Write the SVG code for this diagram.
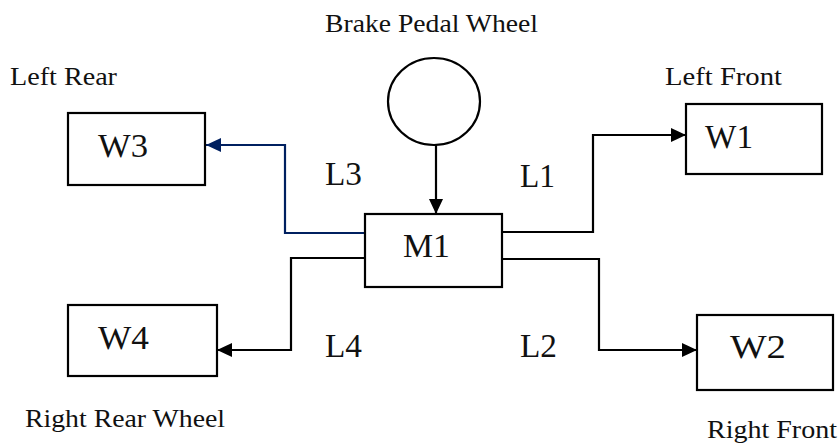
<svg xmlns="http://www.w3.org/2000/svg" width="840" height="444" viewBox="0 0 840 444">
  <style>
    .box { fill: #ffffff; stroke: #000000; stroke-width: 2.2; }
    .big { font-family: "Liberation Serif", "Times New Roman", serif; font-size: 34px; fill: #111111; }
    .small { font-family: "Liberation Serif", "Times New Roman", serif; font-size: 25px; fill: #111111; }
    .conn { fill: none; stroke: #000000; stroke-width: 2.2; }
    .navy { stroke: #002060; }
  </style>
  <defs>
    <marker id="arrowBlack" markerUnits="userSpaceOnUse" markerWidth="16" markerHeight="16" refX="15" refY="7" orient="auto">
      <path d="M0,0 L15,7 L0,14 Z" fill="#000000"/>
    </marker>
    <marker id="arrowNavy" markerUnits="userSpaceOnUse" markerWidth="16" markerHeight="16" refX="15" refY="7" orient="auto">
      <path d="M0,0 L15,7 L0,14 Z" fill="#002060"/>
    </marker>
  </defs>
  <rect width="840" height="444" fill="#ffffff"/>

  <g id="connectors">
    <path class="conn" d="M436 145 V214" marker-end="url(#arrowBlack)"/>
    <path class="conn" d="M502 232 H593 V135 H686" marker-end="url(#arrowBlack)"/>
    <path class="conn" d="M502 259 H599 V350 H697" marker-end="url(#arrowBlack)"/>
    <path class="conn navy" d="M365 233 H285 V145 H206" marker-end="url(#arrowNavy)"/>
    <path class="conn" d="M365 258 H291 V350 H217" marker-end="url(#arrowBlack)"/>
  </g>

  <g id="brake">
    <ellipse cx="434" cy="101.5" rx="46" ry="43.5" class="box"/>
    <text class="small" x="325" y="32" textLength="213" lengthAdjust="spacingAndGlyphs">Brake Pedal Wheel</text>
  </g>
  <g id="M1">
    <rect class="box" x="365" y="214" width="137" height="73"/>
    <text class="big" x="403" y="257" textLength="47" lengthAdjust="spacingAndGlyphs">M1</text>
  </g>
  <g id="W1">
    <rect class="box" x="686" y="104" width="136" height="70"/>
    <text class="big" x="705" y="148" textLength="48" lengthAdjust="spacingAndGlyphs">W1</text>
    <text class="small" x="665" y="85" textLength="117" lengthAdjust="spacingAndGlyphs">Left Front</text>
  </g>
  <g id="W2">
    <rect class="box" x="697" y="315" width="136" height="75"/>
    <text class="big" x="730" y="358" textLength="56" lengthAdjust="spacingAndGlyphs">W2</text>
    <text class="small" x="707" y="438" textLength="130" lengthAdjust="spacingAndGlyphs">Right Front</text>
  </g>
  <g id="W3">
    <rect class="box" x="68" y="113" width="137" height="72"/>
    <text class="big" x="98" y="157" textLength="50" lengthAdjust="spacingAndGlyphs">W3</text>
    <text class="small" x="10" y="85" textLength="107" lengthAdjust="spacingAndGlyphs">Left Rear</text>
  </g>
  <g id="W4">
    <rect class="box" x="68" y="305" width="149" height="71"/>
    <text class="big" x="98" y="349" textLength="51" lengthAdjust="spacingAndGlyphs">W4</text>
    <text class="small" x="25" y="427" textLength="200" lengthAdjust="spacingAndGlyphs">Right Rear Wheel</text>
  </g>

  <g id="labels">
    <text class="big" x="325" y="185" textLength="37" lengthAdjust="spacingAndGlyphs">L3</text>
    <text class="big" x="520" y="187" textLength="35" lengthAdjust="spacingAndGlyphs">L1</text>
    <text class="big" x="325" y="357" textLength="37" lengthAdjust="spacingAndGlyphs">L4</text>
    <text class="big" x="520" y="357" textLength="37" lengthAdjust="spacingAndGlyphs">L2</text>
  </g>
</svg>
